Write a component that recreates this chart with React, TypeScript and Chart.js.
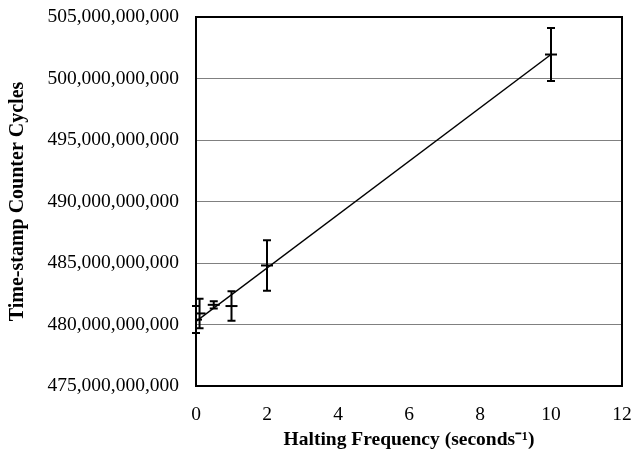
import React, { useEffect, useRef } from "react";
import { Chart, registerables } from "chart.js";

Chart.register(...registerables);

const frequencies = [0, 0.1, 0.5, 1, 2, 10];
const meanCycles = [480.4e9, 480.9e9, 481.6e9, 481.5e9, 484.8e9, 501.95e9];
const errorCycles = [1.1e9, 1.2e9, 0.3e9, 1.2e9, 2.05e9, 2.15e9];
const trendX = [0, 10];
const trendY = [480.25e9, 501.95e9];
const xTicks = [0, 2, 4, 6, 8, 10, 12];
const yTicks = [475e9, 480e9, 485e9, 490e9, 495e9, 500e9, 505e9];

const errorBarPlugin = {
  id: "errorBars",
  afterDatasetsDraw(chart: any) {
    const { ctx, scales } = chart;
    const xs = scales.x;
    const ys = scales.y;
    ctx.save();
    ctx.strokeStyle = "#000";
    ctx.lineWidth = 2;
    frequencies.forEach((f, i) => {
      const px = xs.getPixelForValue(f);
      const top = ys.getPixelForValue(meanCycles[i] + errorCycles[i]);
      const bot = ys.getPixelForValue(meanCycles[i] - errorCycles[i]);
      ctx.beginPath();
      ctx.moveTo(px, top);
      ctx.lineTo(px, bot);
      ctx.moveTo(px - 4, top);
      ctx.lineTo(px + 4, top);
      ctx.moveTo(px - 4, bot);
      ctx.lineTo(px + 4, bot);
      ctx.stroke();
    });
    ctx.restore();
  },
  afterDraw(chart: any) {
    const { ctx, chartArea } = chart;
    ctx.save();
    ctx.strokeStyle = "#000";
    ctx.lineWidth = 2;
    ctx.strokeRect(
      chartArea.left,
      chartArea.top,
      chartArea.right - chartArea.left,
      chartArea.bottom - chartArea.top
    );
    ctx.restore();
  },
};

export default function App() {
  const ref = useRef<HTMLCanvasElement>(null);
  useEffect(() => {
    document.body.style.margin = "0";
    const canvas = ref.current!;
    const chart = new Chart(canvas, {
      type: "scatter",
      data: {
        datasets: [
          {
            label: "Trend",
            type: "line",
            data: trendX.map((x, i) => ({ x, y: trendY[i] })),
            borderColor: "#000",
            borderWidth: 1.5,
            pointRadius: 0,
            fill: false,
          },
          {
            label: "Measured",
            data: frequencies.map((x, i) => ({ x, y: meanCycles[i] })),
            pointStyle: "line",
            pointRadius: 6,
            borderColor: "#000",
            backgroundColor: "#000",
            borderWidth: 2,
          },
        ],
      },
      options: {
        animation: false,
        responsive: false,
        events: [],
        layout: { padding: { top: 17, right: 9, left: 0, bottom: 0 } },
        plugins: { legend: { display: false }, tooltip: { enabled: false } },
        scales: {
          x: {
            type: "linear",
            min: 0,
            max: 12,
            afterBuildTicks: (axis: any) => {
              axis.ticks = xTicks.map((v) => ({ value: v }));
            },
            afterFit: (axis: any) => {
              axis.height = 72;
              axis.paddingLeft = 0;
              axis.paddingRight = 0;
            },
            grid: { display: false, drawTicks: false },
            border: { display: false },
            ticks: {
              color: "#000",
              padding: 17,
              font: { family: "Liberation Serif", size: 19.5 },
            },
            title: {
              display: true,
              text: "Halting Frequency (seconds\u207B\u00B9)",
              color: "#000",
              padding: { top: 0, bottom: 6 },
              font: { family: "Liberation Serif", size: 19.5, weight: "bold" },
            },
          },
          y: {
            type: "linear",
            min: 475e9,
            max: 505e9,
            afterBuildTicks: (axis: any) => {
              axis.ticks = yTicks.map((v) => ({ value: v }));
            },
            afterFit: (axis: any) => {
              axis.width = 196;
              axis.paddingTop = 0;
              axis.paddingBottom = 0;
            },
            grid: { color: "#808080", lineWidth: 1, drawTicks: false },
            border: { display: false },
            ticks: {
              color: "#000",
              padding: 17,
              font: { family: "Liberation Serif", size: 19.5 },
              callback: (v: any) => Number(v).toLocaleString("en-US"),
            },
            title: {
              display: true,
              text: "Time-stamp Counter Cycles",
              color: "#000",
              padding: { top: 6, bottom: 0 },
              font: { family: "Liberation Serif", size: 20, weight: "bold" },
            },
          },
        },
      },
      plugins: [errorBarPlugin],
    } as any);
    return () => chart.destroy();
  }, []);
  return <canvas ref={ref} width={631} height={458} style={{ display: "block" }} />;
}
